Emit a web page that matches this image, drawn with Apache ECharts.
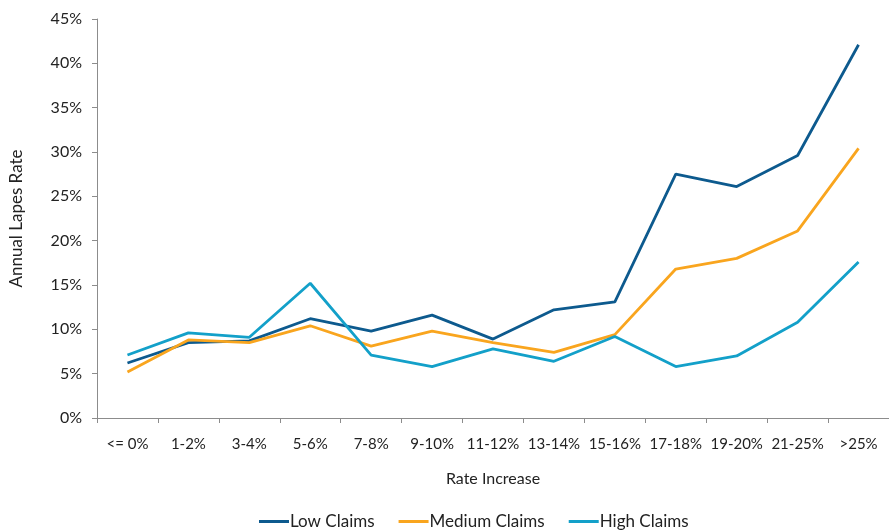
<!DOCTYPE html>
<html>
<head>
<meta charset="utf-8">
<script src="https://cdn.jsdelivr.net/npm/echarts@6/dist/echarts.min.js"></script>
<style>
  html, body { margin: 0; padding: 0; background: #fff; }
  #chart { width: 889px; height: 531px; }
</style>
</head>
<body>
<div id="chart"></div>
<script>
// Rate increase buckets
const categories = ['<= 0%', '1-2%', '3-4%', '5-6%', '7-8%', '9-10%', '11-12%', '13-14%', '15-16%', '17-18%', '19-20%', '21-25%', '>25%'];

// Annual lapse rates (%) by claims experience
const lowClaims    = [6.2, 8.5, 8.7, 11.2, 9.8, 11.6, 8.9, 12.2, 13.1, 27.5, 26.1, 29.6, 42.1];
const mediumClaims = [5.2, 8.8, 8.5, 10.4, 8.1, 9.8, 8.5, 7.4, 9.4, 16.8, 18.0, 21.1, 30.4];
const highClaims   = [7.1, 9.6, 9.1, 15.2, 7.1, 5.8, 7.8, 6.4, 9.2, 5.8, 7.0, 10.8, 17.6];

// Y-axis tick values (%)
const yTicks = [0, 5, 10, 15, 20, 25, 30, 35, 40, 45];

const FONT = 'Lato';
const axisColor = '#8c8c8c';

const chart = echarts.init(document.getElementById('chart'));

function lineSeries(name, data, color) {
  return {
    name: name,
    type: 'line',
    data: data,
    symbol: 'none',
    smooth: false,
    lineStyle: { color: color, width: 2.8 },
    itemStyle: { color: color }
  };
}

chart.setOption({
  animation: false,
  textStyle: { fontFamily: FONT },
  grid: { left: 97, right: 0, top: 19, bottom: 113, containLabel: false },
  xAxis: {
    type: 'category',
    data: categories,
    boundaryGap: true,
    name: 'Rate Increase',
    nameLocation: 'middle',
    nameGap: 53,
    nameTextStyle: { fontFamily: FONT, fontSize: 16, color: '#222' },
    axisLine: { lineStyle: { color: axisColor, width: 1 } },
    axisTick: { show: true, length: 5, lineStyle: { color: axisColor } },
    axisLabel: { fontFamily: FONT, fontSize: 15, color: '#222', margin: 19, interval: 0 },
    splitLine: { show: false }
  },
  yAxis: {
    type: 'value',
    min: yTicks[0],
    max: yTicks[yTicks.length - 1],
    interval: 5,
    name: 'Annual Lapes Rate',
    nameLocation: 'middle',
    nameGap: 72,
    nameRotate: 90,
    nameTextStyle: { fontFamily: FONT, fontSize: 17, color: '#222' },
    axisLine: { show: true, lineStyle: { color: axisColor, width: 1 } },
    axisTick: { show: true, length: 5, lineStyle: { color: axisColor } },
    axisLabel: { fontFamily: FONT, fontSize: 16, color: '#222', margin: 15, formatter: '{value}%' },
    splitLine: { show: false }
  },
  legend: {
    bottom: -4,
    left: 254,
    itemWidth: 30,
    itemHeight: 3,
    itemGap: 24,
    icon: 'rect',
    textStyle: { fontFamily: FONT, fontSize: 17, color: '#222', padding: [0, 0, 0, -4] },
    data: ['Low Claims', 'Medium Claims', 'High Claims']
  },
  series: [
    lineSeries('Low Claims', lowClaims, '#0d5a8e'),
    lineSeries('Medium Claims', mediumClaims, '#f9a51e'),
    lineSeries('High Claims', highClaims, '#13a0c9')
  ]
});
</script>
</body>
</html>
